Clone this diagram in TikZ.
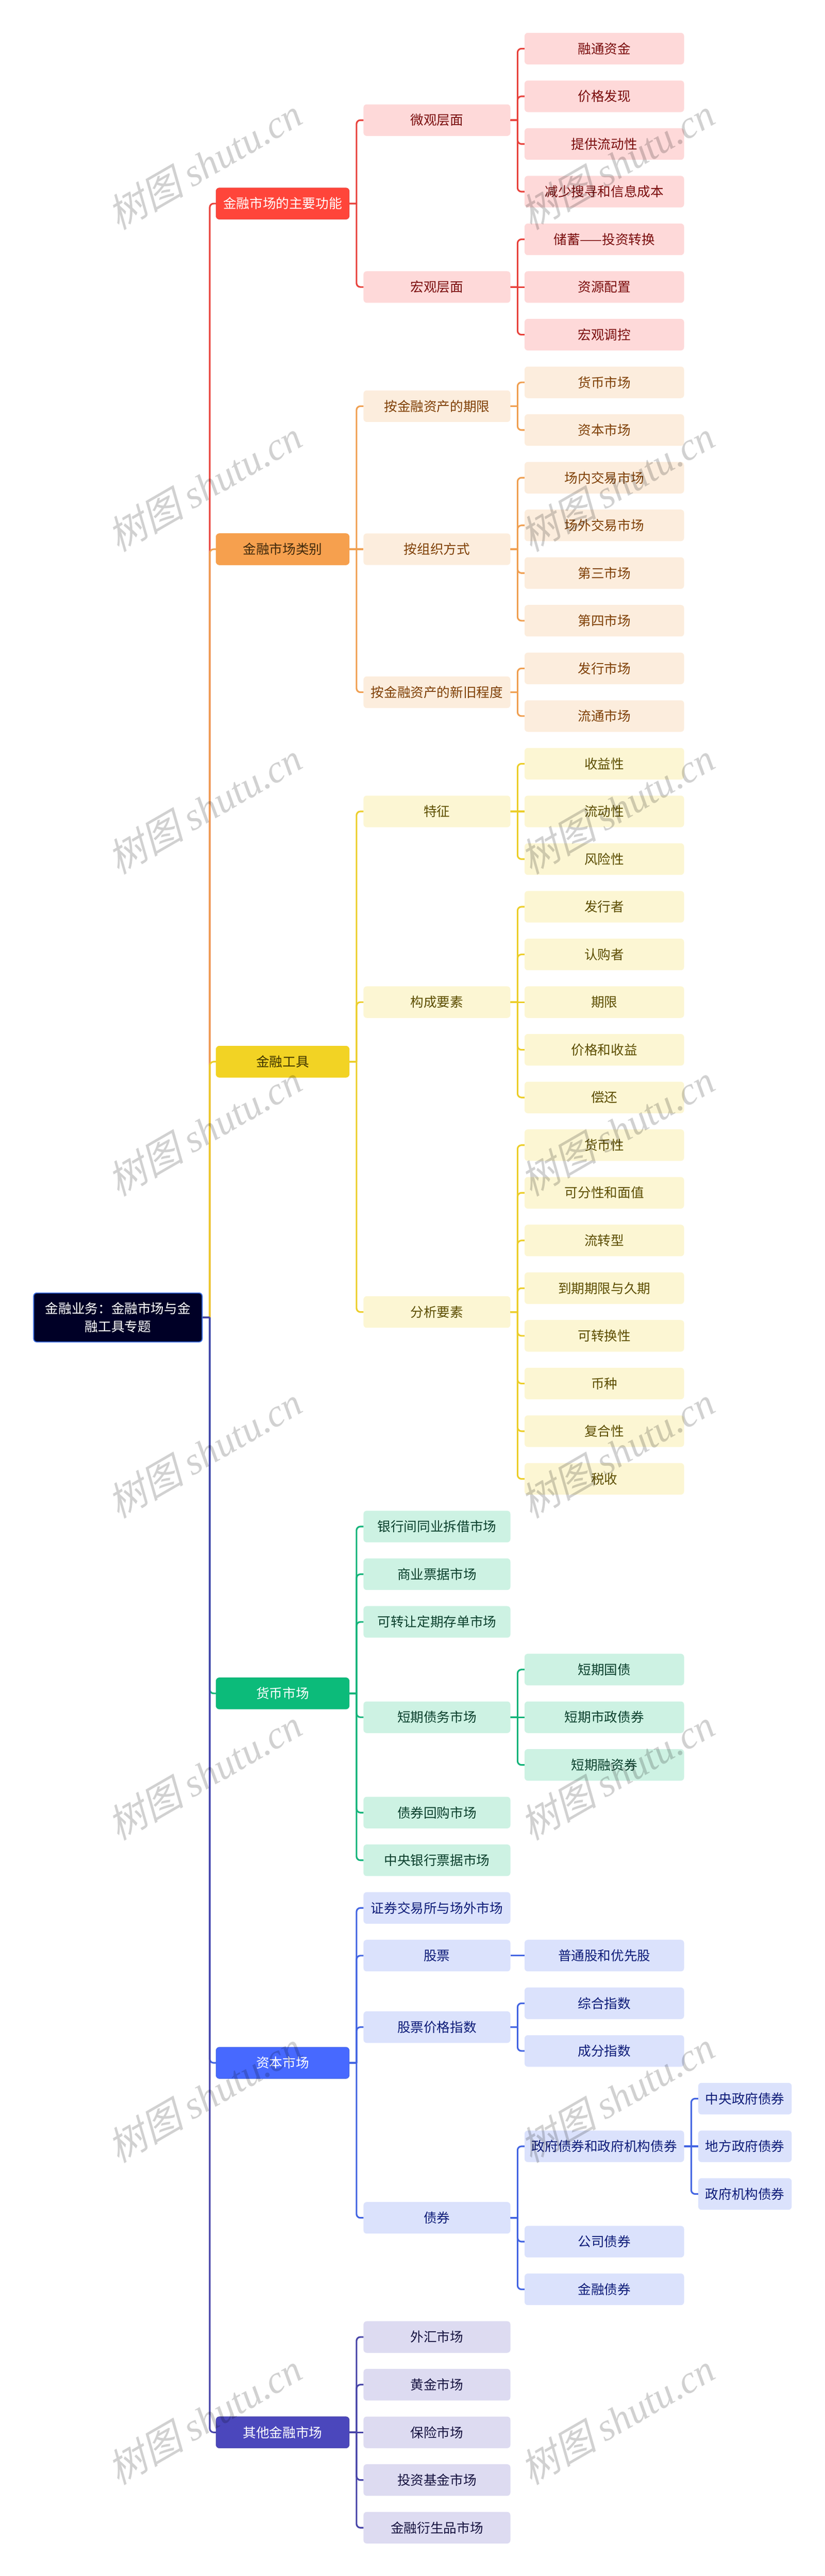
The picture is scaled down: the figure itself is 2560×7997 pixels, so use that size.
\documentclass[tikz,border=0pt]{standalone}
\usepackage{fontspec}
\setmainfont{Noto Sans CJK SC}
\newfontfamily\markcjk[FakeSlant=0.25]{Noto Sans CJK SC}
\newfontfamily\marklatin{Liberation Serif}[ItalicFont={Liberation Serif Italic}]
\definecolor{rootfill}{HTML}{000026}
\definecolor{rootline}{HTML}{3366DD}
\definecolor{redfill}{HTML}{FF453A}
\definecolor{redsoft}{HTML}{FED9D9}
\definecolor{redtext}{HTML}{7A0C0C}
\definecolor{redline}{HTML}{E8433D}
\definecolor{orafill}{HTML}{F6A04E}
\definecolor{orasoft}{HTML}{FCEDDD}
\definecolor{oratext}{HTML}{7F3F05}
\definecolor{oramain}{HTML}{40290C}
\definecolor{oraline}{HTML}{F0A052}
\definecolor{yelfill}{HTML}{F2D324}
\definecolor{yelsoft}{HTML}{FCF6D3}
\definecolor{yeltext}{HTML}{5C4D00}
\definecolor{yelmain}{HTML}{3D3300}
\definecolor{yelline}{HTML}{ECCE2B}
\definecolor{grnfill}{HTML}{0CBB7A}
\definecolor{grnsoft}{HTML}{CDF2E3}
\definecolor{grntext}{HTML}{0A3F2C}
\definecolor{grnline}{HTML}{15B47A}
\definecolor{blufill}{HTML}{4769FF}
\definecolor{blusoft}{HTML}{DBE2FC}
\definecolor{blutext}{HTML}{0D1B78}
\definecolor{bluline}{HTML}{4365E2}
\definecolor{purfill}{HTML}{4B47BC}
\definecolor{pursoft}{HTML}{DDDBF1}
\definecolor{purtext}{HTML}{15123F}
\definecolor{purline}{HTML}{4744A8}
\tikzset{
  box/.style={shape=rectangle,rounded corners=10pt,anchor=west,inner sep=0pt,
    minimum height=98pt,align=center,font=\fontsize{41}{56}\selectfont},
  lvone/.style={box,minimum width=413pt,minimum height=97pt,text=white,line width=1.5pt},
  lvtwo/.style={box,minimum width=456pt},
  lvthree/.style={box,minimum width=495pt},
  lvfour/.style={box,minimum width=290pt},
  redmain/.style={lvone,fill=redfill,draw=redline},
  oramain/.style={lvone,fill=orafill,draw=orafill,text=oramain},
  yelmain/.style={lvone,fill=yelfill,draw=yelfill,text=yelmain},
  grnmain/.style={lvone,fill=grnfill,draw=grnline},
  blumain/.style={lvone,fill=blufill,draw=bluline},
  purmain/.style={lvone,fill=purfill,draw=purline},
  redsub/.style={fill=redsoft,text=redtext},
  orasub/.style={fill=orasoft,text=oratext},
  yelsub/.style={fill=yelsoft,text=yeltext},
  grnsub/.style={fill=grnsoft,text=grntext},
  blusub/.style={fill=blusoft,text=blutext},
  pursub/.style={fill=pursoft,text=purtext},
  link/.style={line width=5pt,rounded corners=12pt},
  markword/.style={text=black,opacity=0.18,rotate=30,inner sep=0pt,font=\fontsize{120}{120}\selectfont},
}
\begin{document}
\begin{tikzpicture}[x=1pt,y=-1pt]
\useasboundingbox (0,0) rectangle (2560,7997);
% centre
\node[box,minimum width=523pt,minimum height=152pt,fill=rootfill,draw=rootline,line width=3pt,text=white] (root) at (103,4090) {金融业务：金融市场与金\\融工具专题};
% main branches
\node[redmain] (func) at (670,632) {金融市场的主要功能};
\node[oramain] (kind) at (670,1705) {金融市场类别};
\node[yelmain] (tool) at (670,3296) {金融工具};
\node[grnmain] (money) at (670,5257) {货币市场};
\node[blumain] (capital) at (670,6404) {资本市场};
\node[purmain] (other) at (670,7551) {其他金融市场};
% functions
\node[lvtwo,redsub] (micro) at (1128,373) {微观层面};
\node[lvtwo,redsub] (macro) at (1128,891) {宏观层面};
\node[lvthree,redsub] (fund) at (1628,151) {融通资金};
\node[lvthree,redsub] (price) at (1628,299) {价格发现};
\node[lvthree,redsub] (liquid) at (1628,447) {提供流动性};
\node[lvthree,redsub] (search) at (1628,595) {减少搜寻和信息成本};
\node[lvthree,redsub] (saving) at (1628,743) {储蓄——投资转换};
\node[lvthree,redsub] (alloc) at (1628,891) {资源配置};
\node[lvthree,redsub] (adjust) at (1628,1039) {宏观调控};
% kinds of market
\node[lvtwo,orasub] (term) at (1128,1261) {按金融资产的期限};
\node[lvtwo,orasub] (organ) at (1128,1705) {按组织方式};
\node[lvtwo,orasub] (newold) at (1128,2149) {按金融资产的新旧程度};
\node[lvthree,orasub] (kmoney) at (1628,1187) {货币市场};
\node[lvthree,orasub] (kcapital) at (1628,1335) {资本市场};
\node[lvthree,orasub] (inside) at (1628,1483) {场内交易市场};
\node[lvthree,orasub] (outside) at (1628,1631) {场外交易市场};
\node[lvthree,orasub] (third) at (1628,1779) {第三市场};
\node[lvthree,orasub] (fourth) at (1628,1927) {第四市场};
\node[lvthree,orasub] (issue) at (1628,2075) {发行市场};
\node[lvthree,orasub] (flow) at (1628,2223) {流通市场};
% instruments
\node[lvtwo,yelsub] (feature) at (1128,2519) {特征};
\node[lvtwo,yelsub] (element) at (1128,3111) {构成要素};
\node[lvtwo,yelsub] (analysis) at (1128,4073) {分析要素};
\node[lvthree,yelsub] (income) at (1628,2371) {收益性};
\node[lvthree,yelsub] (fluid) at (1628,2519) {流动性};
\node[lvthree,yelsub] (risk) at (1628,2667) {风险性};
\node[lvthree,yelsub] (issuer) at (1628,2815) {发行者};
\node[lvthree,yelsub] (buyer) at (1628,2963) {认购者};
\node[lvthree,yelsub] (period) at (1628,3111) {期限};
\node[lvthree,yelsub] (yield) at (1628,3259) {价格和收益};
\node[lvthree,yelsub] (repay) at (1628,3407) {偿还};
\node[lvthree,yelsub] (cash) at (1628,3555) {货币性};
\node[lvthree,yelsub] (divide) at (1628,3703) {可分性和面值};
\node[lvthree,yelsub] (turn) at (1628,3851) {流转型};
\node[lvthree,yelsub] (duration) at (1628,3999) {到期期限与久期};
\node[lvthree,yelsub] (convert) at (1628,4147) {可转换性};
\node[lvthree,yelsub] (currency) at (1628,4295) {币种};
\node[lvthree,yelsub] (compound) at (1628,4443) {复合性};
\node[lvthree,yelsub] (tax) at (1628,4591) {税收};
% money market
\node[lvtwo,grnsub] (interbank) at (1128,4739) {银行间同业拆借市场};
\node[lvtwo,grnsub] (paper) at (1128,4887) {商业票据市场};
\node[lvtwo,grnsub] (deposit) at (1128,5035) {可转让定期存单市场};
\node[lvtwo,grnsub] (shortdebt) at (1128,5331) {短期债务市场};
\node[lvtwo,grnsub] (repo) at (1128,5627) {债券回购市场};
\node[lvtwo,grnsub] (central) at (1128,5775) {中央银行票据市场};
\node[lvthree,grnsub] (tbill) at (1628,5183) {短期国债};
\node[lvthree,grnsub] (muni) at (1628,5331) {短期市政债券};
\node[lvthree,grnsub] (cpaper) at (1628,5479) {短期融资券};
% capital market
\node[lvtwo,blusub] (exchange) at (1128,5923) {证券交易所与场外市场};
\node[lvtwo,blusub] (stock) at (1128,6071) {股票};
\node[lvtwo,blusub] (index) at (1128,6293) {股票价格指数};
\node[lvtwo,blusub] (bond) at (1128,6885) {债券};
\node[lvthree,blusub] (common) at (1628,6071) {普通股和优先股};
\node[lvthree,blusub] (composite) at (1628,6219) {综合指数};
\node[lvthree,blusub] (constit) at (1628,6367) {成分指数};
\node[lvthree,blusub] (govbond) at (1628,6663) {政府债券和政府机构债券};
\node[lvthree,blusub] (corp) at (1628,6959) {公司债券};
\node[lvthree,blusub] (finbond) at (1628,7107) {金融债券};
\node[lvfour,blusub] (centgov) at (2167,6515) {中央政府债券};
\node[lvfour,blusub] (localgov) at (2167,6663) {地方政府债券};
\node[lvfour,blusub] (agency) at (2167,6811) {政府机构债券};
% other markets
\node[lvtwo,pursub] (forex) at (1128,7255) {外汇市场};
\node[lvtwo,pursub] (gold) at (1128,7403) {黄金市场};
\node[lvtwo,pursub] (insure) at (1128,7551) {保险市场};
\node[lvtwo,pursub] (invest) at (1128,7699) {投资基金市场};
\node[lvtwo,pursub] (deriv) at (1128,7847) {金融衍生品市场};
% connectors
\foreach \kid/\col in {func/redline,kind/oraline,tool/yelline,money/grnline,capital/bluline,other/purline}
  \draw[link,\col] (root.east) -- ++(22,0) ++(0,0) |- (\kid.west);
\foreach \up/\kid/\col in {func/micro/redline,func/macro/redline,
  micro/fund/redline,micro/price/redline,micro/liquid/redline,micro/search/redline,
  macro/saving/redline,macro/adjust/redline,
  kind/term/oraline,kind/newold/oraline,
  term/kmoney/oraline,term/kcapital/oraline,
  organ/inside/oraline,organ/outside/oraline,organ/third/oraline,organ/fourth/oraline,
  newold/issue/oraline,newold/flow/oraline,
  tool/feature/yelline,tool/element/yelline,tool/analysis/yelline,
  feature/income/yelline,feature/risk/yelline,
  element/issuer/yelline,element/buyer/yelline,element/yield/yelline,element/repay/yelline,
  analysis/cash/yelline,analysis/divide/yelline,analysis/turn/yelline,analysis/duration/yelline,
  analysis/convert/yelline,analysis/currency/yelline,analysis/compound/yelline,analysis/tax/yelline,
  money/interbank/grnline,money/paper/grnline,money/deposit/grnline,money/shortdebt/grnline,money/repo/grnline,money/central/grnline,
  shortdebt/tbill/grnline,shortdebt/cpaper/grnline,
  capital/exchange/bluline,capital/stock/bluline,capital/index/bluline,capital/bond/bluline,
  index/composite/bluline,index/constit/bluline,
  bond/govbond/bluline,bond/corp/bluline,bond/finbond/bluline,
  govbond/centgov/bluline,govbond/agency/bluline,
  other/forex/purline,other/gold/purline,other/invest/purline,other/deriv/purline}
  \draw[link,\col] (\up.east) -- ++(22,0) ++(0,0) |- (\kid.west);
% straight ones
\foreach \up/\kid/\col in {macro/alloc/redline,kind/organ/oraline,feature/fluid/yelline,element/period/yelline,
  shortdebt/muni/grnline,stock/common/bluline,govbond/localgov/bluline,other/insure/purline}
  \draw[link,\col] (\up.east) -- (\kid.west);
% watermark
\foreach \row in {0,...,7}
  \foreach \col in {0,1}
    \node[markword] (mark\row\col) at (634+1281*\col,509+1000*\row) {{\markcjk 树图} {\marklatin\itshape shutu.cn}};
\end{tikzpicture}
\end{document}
